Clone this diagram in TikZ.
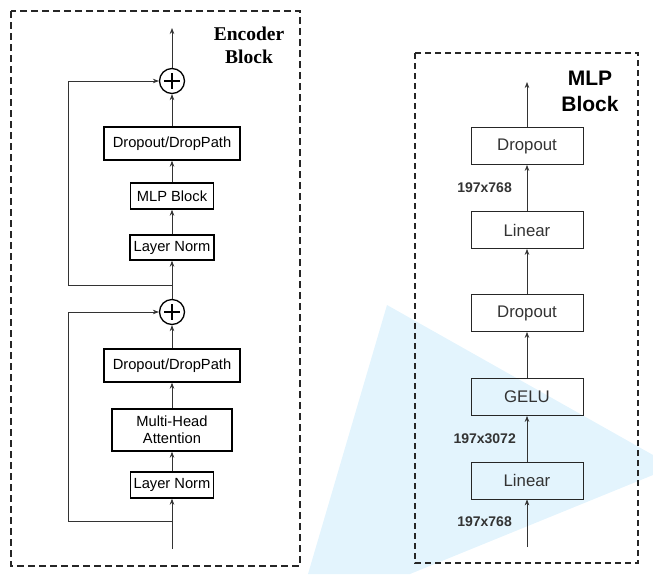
\documentclass[tikz,border=0pt]{standalone}
\usepackage{fontspec}
\setmainfont{Liberation Sans}
\newfontfamily\timesfont{Liberation Serif}
\usetikzlibrary{arrows.meta}
\definecolor{cone}{HTML}{E3F4FD}
\definecolor{ink}{HTML}{333333}
\begin{document}
\begin{tikzpicture}[x=1pt,y=-1pt,
    enc/.style 2 args={draw, line width=1.4pt, minimum width=#1, minimum height=#2, inner sep=0pt, align=center, font=\fontsize{14.7}{17}\selectfont},
    mlp/.style={draw=black!85, line width=0.8pt, minimum width=112, minimum height=37, inner sep=0pt, text=ink, font=\fontsize{16.8}{18}\selectfont},
    dim/.style={anchor=east, inner sep=0pt, text=ink, font=\fontsize{14}{16}\selectfont\bfseries},
    flow/.style={-{Stealth[length=6pt,width=4.5pt]}, draw=ink, line width=0.7pt},
    addop/.style={draw, circle, line width=1.3pt, minimum size=25, inner sep=0pt}]
  \useasboundingbox (0,0) rectangle (653,574);
  \fill[cone] (387,305) -- (653,455) -- (653,475) -- (410,574) -- (308,574) -- cycle;

  \draw[black!85, line width=2pt, dash pattern=on 7pt off 4pt] (11,11) rectangle (300,566);
  \node[font=\fontsize{19.5}{23}\selectfont\timesfont\bfseries, align=center] (encTitle) at (249,45) {Encoder\\Block};

  \node[addop] (addA) at (172,81) {};
  \node[enc={136}{33}] (dpA) at (172,143.5) {Dropout/DropPath};
  \node[enc={83}{26}] (mlpA) at (172,196) {MLP Block};
  \node[enc={84}{25}] (lnA) at (172,247.5) {Layer Norm};
  \node[addop] (addB) at (172,312) {};
  \node[enc={136}{33}] (dpB) at (172,365.5) {Dropout/DropPath};
  \node[enc={120}{42}] (mha) at (172,430) {Multi-Head\\Attention};
  \node[enc={83}{26}] (lnB) at (172,485) {Layer Norm};
  \coordinate (outE) at (172,28);
  \coordinate (inE) at (172,549);
  \coordinate (forkA) at (172,285);
  \coordinate (forkB) at (172,521);

  \foreach \n in {addA, addB}
    \draw[line width=1.2pt] (\n) ++(-8,0) -- ++(16,0) (\n) ++(0,-8) -- ++(0,16);

  \draw[flow] (inE) -- (lnB);
  \draw[flow] (lnB) -- (mha);
  \draw[flow] (mha) -- (dpB);
  \draw[flow] (dpB) -- (addB);
  \draw[flow] (addB) -- (lnA);
  \draw[flow] (lnA) -- (mlpA);
  \draw[flow] (mlpA) -- (dpA);
  \draw[flow] (dpA) -- (addA);
  \draw[flow] (addA) -- (outE);
  \draw[flow] (forkB) -- ++(-104,0) |- (addB);
  \draw[flow] (forkA) -- ++(-104,0) |- (addA);

  \draw[black!85, line width=1.3pt, dash pattern=on 6pt off 4pt] (415,53) rectangle (638,563);
  \node[font=\fontsize{21}{26}\selectfont\bfseries, align=center] (mlpTitle) at (590,91) {MLP\\Block};

  \node[mlp] (drop2) at (527,146) {Dropout};
  \node[mlp] (lin2) at (527,230) {Linear};
  \node[mlp] (drop1) at (527,313) {Dropout};
  \node[mlp] (gelu) at (527,397) {GELU};
  \node[mlp] (lin1) at (527,480.5) {Linear};
  \coordinate (outM) at (527,82);
  \coordinate (inM) at (527,547);

  \draw[flow] (inM) -- (lin1);
  \draw[flow] (lin1) -- (gelu);
  \draw[flow] (gelu) -- (drop1);
  \draw[flow] (drop1) -- (lin2);
  \draw[flow] (lin2) -- (drop2);
  \draw[flow] (drop2) -- (outM);

  \node[dim] (dimIn) at (512,522) {197x768};
  \node[dim] (dimHid) at (516,439) {197x3072};
  \node[dim] (dimOut) at (512,188) {197x768};
\end{tikzpicture}
\end{document}
